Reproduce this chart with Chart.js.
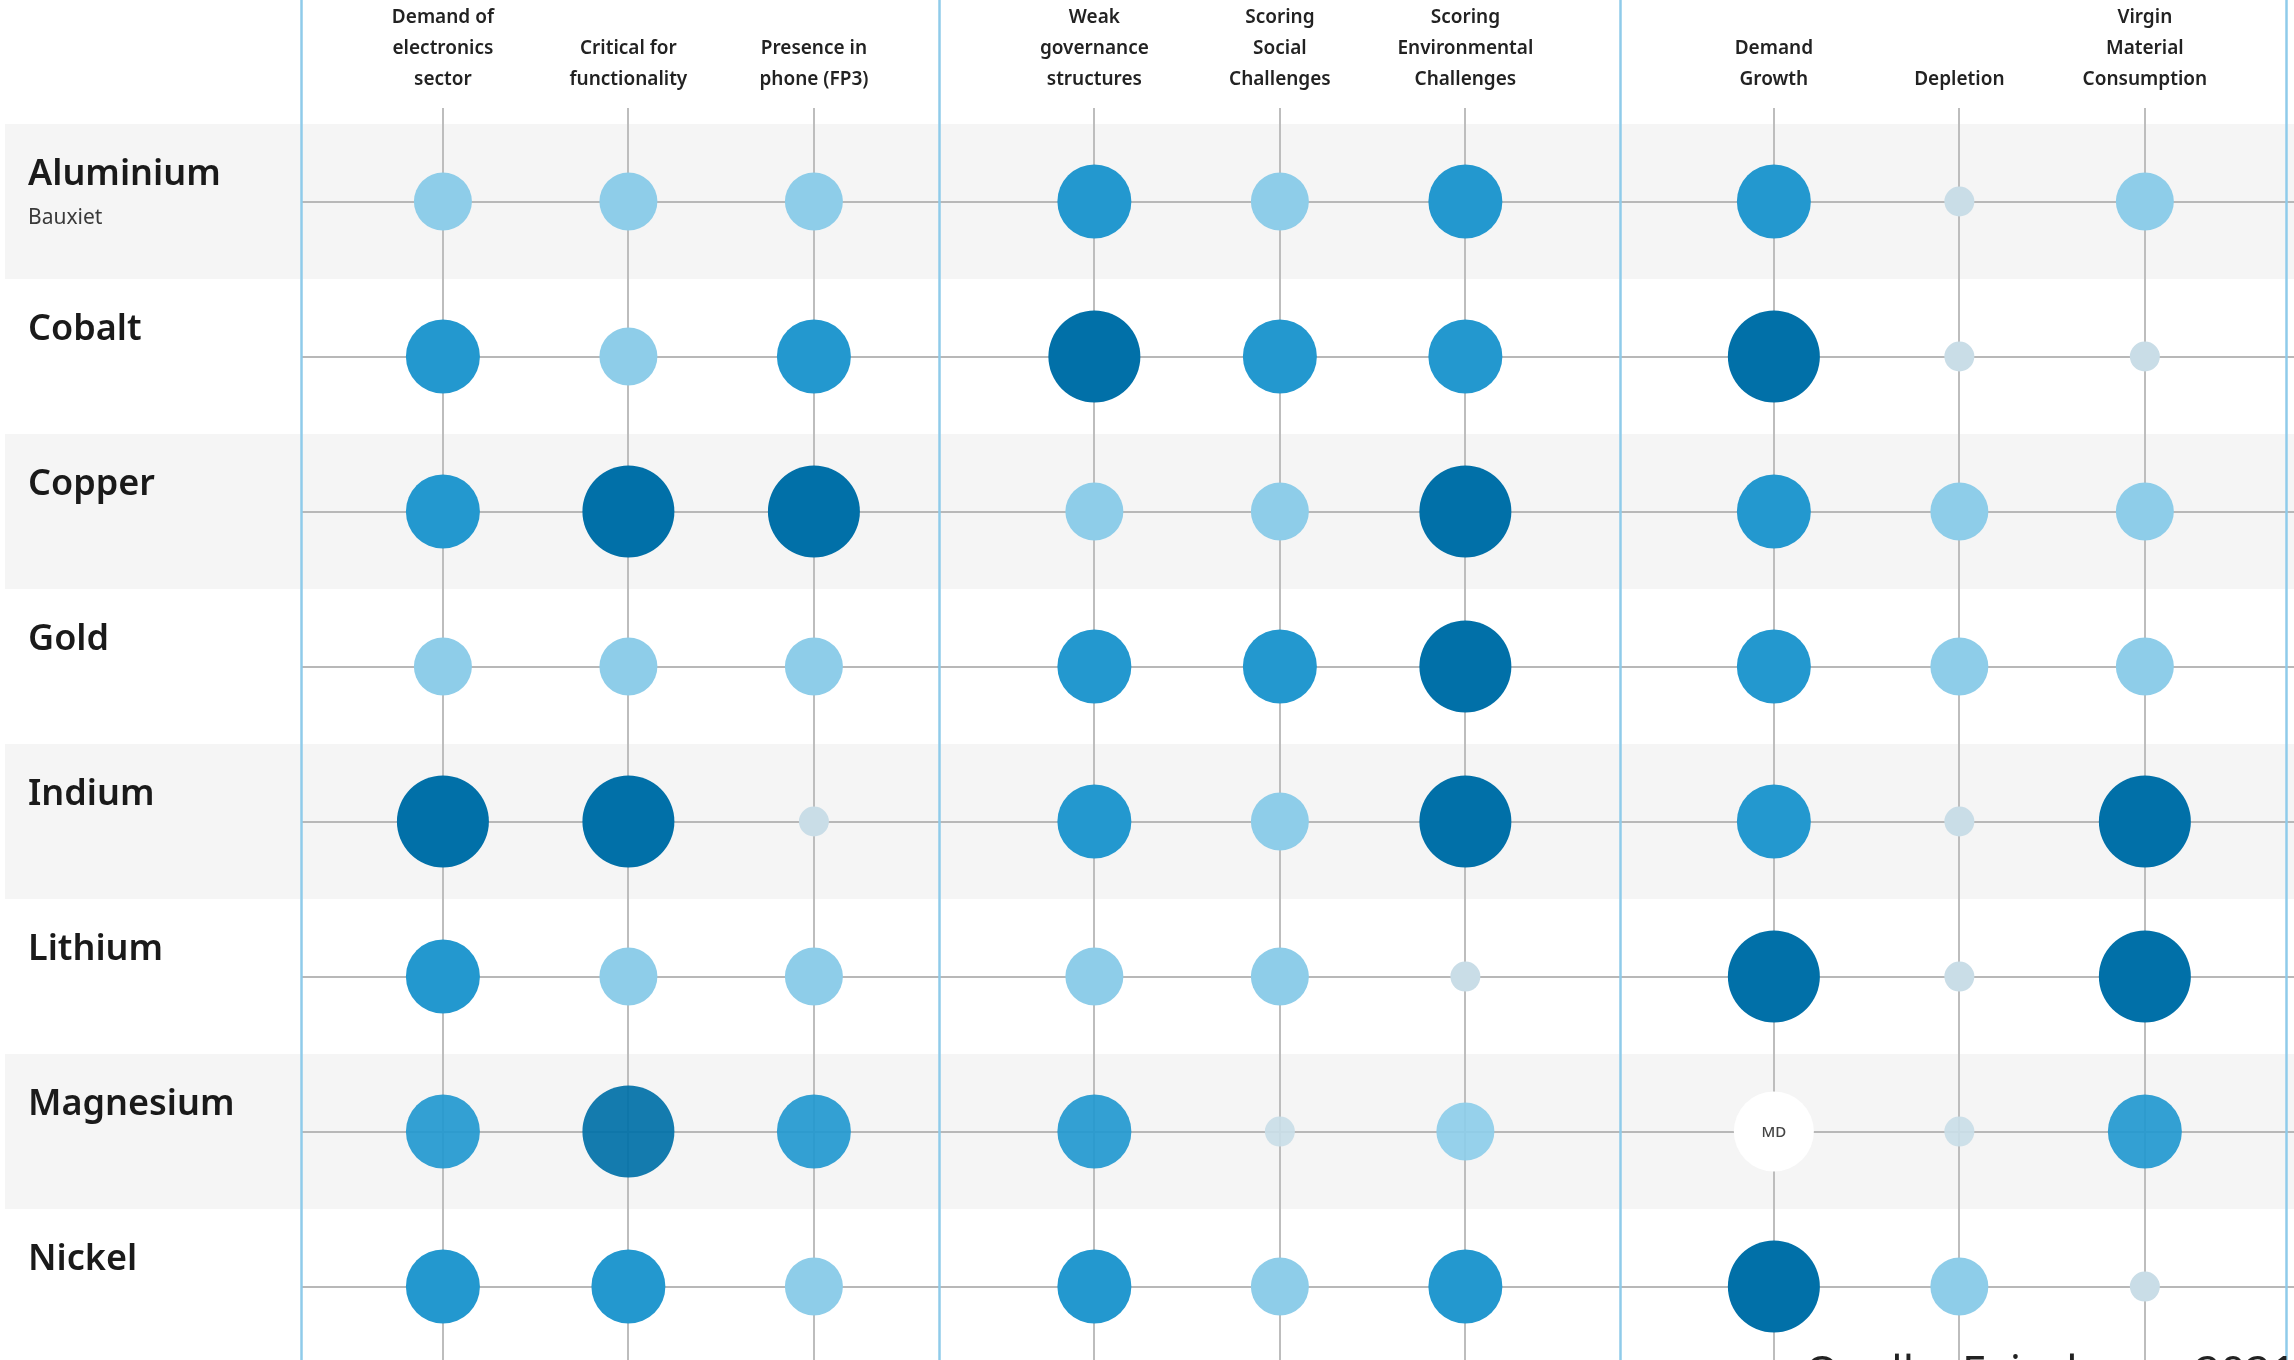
<!DOCTYPE html>
<html>
<head>
<meta charset="utf-8">
<script src="https://cdn.jsdelivr.net/npm/chart.js@4.4.0/dist/chart.umd.min.js"></script>
<style>
  html, body { margin: 0; padding: 0; background: #ffffff; }
  canvas { display: block; }
</style>
</head>
<body>
<canvas id="matrix" width="2294" height="1360"></canvas>
<script>
// Row labels (materials) and the small note under a name
const materials = ['Aluminium', 'Cobalt', 'Copper', 'Gold', 'Indium', 'Lithium', 'Magnesium', 'Nickel'];
const materialNotes = ['Bauxiet', '', '', '', '', '', '', ''];

// Column headers, three groups of three
const criteria = [
    ['Demand of', 'electronics', 'sector'],
    ['Critical for', 'functionality'],
    ['Presence in', 'phone (FP3)'],
    ['Weak', 'governance', 'structures'],
    ['Scoring', 'Social', 'Challenges'],
    ['Scoring', 'Environmental', 'Challenges'],
    ['Demand', 'Growth'],
    ['Depletion'],
    ['Virgin', 'Material', 'Consumption']
];

// Scores per material, one per criterion (0 very low .. 3 high, 'MD' = missing data)
const aluminium = [1, 1, 1, 2, 1, 2, 2, 0, 1];
const cobalt    = [2, 1, 2, 3, 2, 2, 3, 0, 0];
const copper    = [2, 3, 3, 1, 1, 3, 2, 1, 1];
const gold      = [1, 1, 1, 2, 2, 3, 2, 1, 1];
const indium    = [3, 3, 0, 2, 1, 3, 2, 0, 3];
const lithium   = [2, 1, 1, 1, 1, 0, 3, 0, 3];
const magnesium = [2, 3, 2, 2, 0, 1, 'MD', 0, 2];
const nickel    = [2, 2, 1, 2, 1, 2, 3, 1, 0];
const scores = [aluminium, cobalt, copper, gold, indium, lithium, magnesium, nickel];

const sourceNote = 'Quelle: Fairphone, 2021';

// Styles
const FONT = '"Noto Sans", "Open Sans", sans-serif';
const levelColor = ['#c9dde7', '#8ecde9', '#2398cf', '#0170a8'];
const levelRadius = [15, 29, 37, 46];
const mdRadius = 40;
const groupGap = [0, 0.512, 1.175];          // extra space before each group (in column units)
const separatorX = [-0.765, 2.672, 6.345, 9.936];
const translucentRows = ['Magnesium'];

function colX(c) {
    return c + groupGap[Math.floor(c / 3)];
}

// Build the bubble points from the score lists
const points = [];
scores.forEach((row, r) => {
    row.forEach((level, c) => {
        points.push({
            x: colX(c),
            y: r,
            r: level === 'MD' ? mdRadius : levelRadius[level],
            level: level,
            row: r
        });
    });
});

// Background bands, blue separators and extra texts
const decorations = {
    id: 'decorations',
    beforeDraw(chart) {
        const ctx = chart.ctx;
        const yScale = chart.scales.y;
        ctx.save();
        ctx.fillStyle = '#ffffff';
        ctx.fillRect(0, 0, chart.width, chart.height);
        ctx.fillStyle = '#f5f5f5';
        materials.forEach((m, i) => {
            if (i % 2 === 0) {
                const top = yScale.getPixelForValue(i - 0.5);
                const bottom = yScale.getPixelForValue(i + 0.5);
                ctx.fillRect(5, top, chart.width - 5, bottom - top);
            }
        });
        ctx.restore();
    },
    beforeDatasetsDraw(chart) {
        const ctx = chart.ctx;
        const xScale = chart.scales.x;
        ctx.save();
        ctx.strokeStyle = '#8fcbea';
        ctx.lineWidth = 2.5;
        separatorX.forEach(v => {
            const px = Math.round(xScale.getPixelForValue(v)) + 0.5;
            ctx.beginPath();
            ctx.moveTo(px, 0);
            ctx.lineTo(px, chart.height);
            ctx.stroke();
        });
        ctx.restore();
    },
    afterDatasetsDraw(chart) {
        const ctx = chart.ctx;
        const meta = chart.getDatasetMeta(0);
        ctx.save();
        ctx.fillStyle = '#444444';
        ctx.font = '500 15px ' + FONT;
        ctx.textAlign = 'center';
        ctx.textBaseline = 'middle';
        meta.data.forEach((el, i) => {
            if (points[i].level === 'MD') {
                ctx.fillText('MD', el.x, el.y + 1);
            }
        });
        ctx.restore();
    },
    afterDraw(chart) {
        const ctx = chart.ctx;
        const yScale = chart.scales.y;
        ctx.save();
        ctx.fillStyle = '#3a3a3a';
        ctx.font = '400 21px ' + FONT;
        ctx.textAlign = 'left';
        ctx.textBaseline = 'middle';
        materialNotes.forEach((note, i) => {
            if (note) {
                ctx.fillText(note, 28, yScale.getPixelForValue(i) + 17);
            }
        });
        // Source line, cut by the bottom edge as in the original
        ctx.fillStyle = '#222222';
        ctx.font = '400 44px ' + FONT;
        ctx.textBaseline = 'top';
        ctx.fillText(sourceNote, 1805, 1352);
        ctx.restore();
    }
};

new Chart(document.getElementById('matrix'), {
    type: 'bubble',
    data: {
        datasets: [{
            data: points,
            borderWidth: 0,
            clip: false,
            backgroundColor: (c) => {
                const p = c.raw;
                if (!p) return '#ffffff';
                if (p.level === 'MD') return '#ffffff';
                const col = levelColor[p.level];
                return translucentRows.includes(materials[p.row]) ? col + 'ec' : col;
            }
        }]
    },
    options: {
        responsive: false,
        animation: false,
        devicePixelRatio: 1,
        events: [],
        layout: { autoPadding: false, padding: { left: 28, right: 0, top: 0, bottom: 0 } },
        plugins: {
            legend: { display: false },
            tooltip: { enabled: false }
        },
        scales: {
            x: {
                type: 'linear',
                position: 'top',
                min: -0.765,
                max: 9.979,
                afterBuildTicks: (s) => { s.ticks = criteria.map((_, c) => ({ value: colX(c) })); },
                afterFit: (s) => { s.height = 124; s.paddingLeft = 0; s.paddingRight = 0; },
                grid: { color: '#bdbdbd', lineWidth: 2, drawTicks: true, tickLength: 16 },
                border: { display: false },
                ticks: {
                    autoSkip: false,
                    maxRotation: 0,
                    padding: 13,
                    color: '#222222',
                    font: { family: FONT, size: 19, weight: '600', lineHeight: 1.63 },
                    callback: (v, i) => criteria[i]
                }
            },
            y: {
                type: 'linear',
                reverse: true,
                min: -0.5,
                max: 7.474,
                afterBuildTicks: (s) => { s.ticks = materials.map((_, i) => ({ value: i })); },
                afterFit: (s) => { s.width = 273; s.paddingTop = 0; s.paddingBottom = 0; },
                grid: { color: '#b8b8b8', lineWidth: 2, drawTicks: false },
                border: { display: false },
                ticks: {
                    crossAlign: 'far',
                    padding: 0,
                    labelOffset: -27,
                    color: '#1a1a1a',
                    font: { family: FONT, size: 36, weight: '600' },
                    callback: (v, i) => materials[i]
                }
            }
        }
    },
    plugins: [decorations]
});
</script>
</body>
</html>
